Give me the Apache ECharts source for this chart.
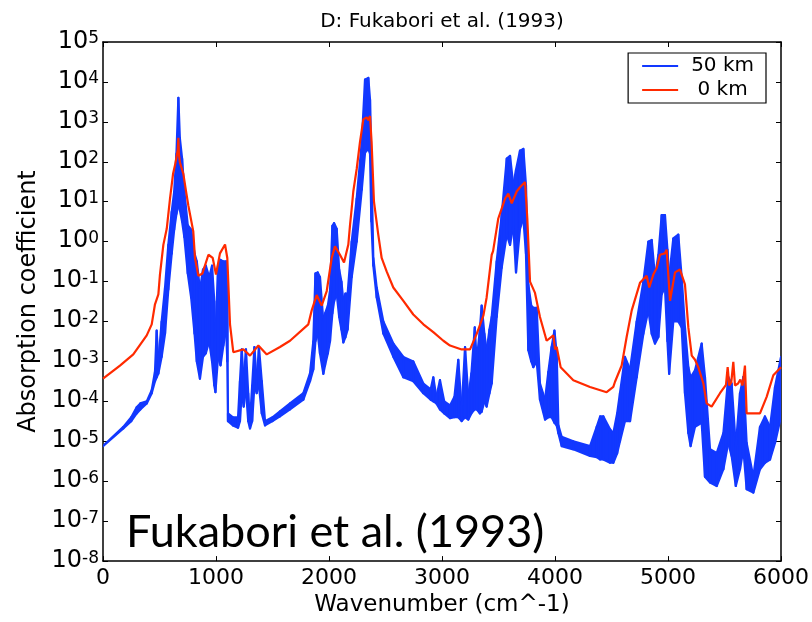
<!DOCTYPE html>
<html>
<head>
<meta charset="utf-8">
<script src="https://cdn.jsdelivr.net/npm/echarts@6/dist/echarts.min.js"></script>
<style>html,body{margin:0;padding:0;background:#fff}#c{width:812px;height:622px}</style>
</head>
<body>
<div id="c"></div>
<script>
// ---- data ----
const titleText = 'D: Fukabori et al. (1993)';
const overlayText = 'Fukabori et al. (1993)';
const xTicks = [0, 1000, 2000, 3000, 4000, 5000, 6000];
const yTickExps = [-8, -7, -6, -5, -4, -3, -2, -1, 0, 1, 2, 3, 4, 5];

// 0 km (red)
const redX = [0,150,268,387,431,460,490,504,534,564,593,620,640,655,662,667,672,681,711,735,755,799,814,844,880,933,971,1000,1035,1080,1100,1124,1153,1242,1301,1375,1449,1566,1655,1817,1847,1891,1935,1980,2024,2053,2097,2133,2171,2186,2201,2215,2245,2274,2304,2333,2348,2363,2377,2398,2436,2466,2510,2569,2658,2746,2835,2923,3012,3071,3174,3248,3307,3366,3395,3440,3452,3498,3558,3587,3617,3661,3690,3735,3755,3779,3823,3867,3926,3985,4000,4015,4050,4162,4310,4457,4516,4531,4590,4634,4679,4752,4811,4834,4870,4900,4929,4973,4988,5018,5062,5106,5150,5180,5210,5239,5268,5313,5342,5386,5460,5513,5528,5542,5560,5578,5593,5620,5640,5660,5681,5696,5814,5873,5932,6000];
const redY = [3.7e-4,7.9e-4,1.5e-3,4.5e-3,8.5e-3,2.7e-2,4.8e-2,0.15,0.83,2.1,12,50,90,100,200,400,150,95,50,18,8.1,1.8,0.39,0.14,0.16,0.47,0.39,0.15,0.51,0.85,0.39,8.5e-3,1.7e-3,2.0e-3,1.4e-3,2.5e-3,1.5e-3,2.3e-3,3.3e-3,8.5e-3,1.9e-2,4.6e-2,2.5e-2,5.8e-2,0.39,0.76,0.47,0.30,0.85,2.6,6.8,18,66,310,1150,1300,1100,1400,310,10,1.5,0.39,0.18,7.1e-2,3.3e-2,1.5e-2,8.5e-3,5.4e-3,3.3e-3,2.5e-3,2.0e-3,2.0e-3,4.9e-3,1.4e-2,4.0e-2,0.47,0.58,3.8,12,16,9.1,18,23,31,3.8,0.10,5.2e-2,1.3e-2,3.3e-3,4.5e-3,2.0e-3,2.3e-3,7.2e-4,3.4e-4,2.3e-4,1.7e-4,2.3e-4,3.1e-4,7.9e-4,4.1e-3,1.9e-2,9.3e-2,0.14,7.1e-2,0.15,0.22,0.47,0.51,0.63,3.3e-2,0.17,0.20,8.5e-2,7.1e-3,1.4e-3,1.1e-3,7.2e-4,2.8e-4,8.9e-5,7.4e-5,1.6e-4,2.6e-4,7.2e-4,2.5e-4,3.0e-4,9.8e-4,2.5e-4,2.8e-4,3.5e-4,2.5e-4,7.9e-4,5.0e-5,5.0e-5,1.3e-4,4.5e-4,7.2e-4];

// 50 km (blue): upper and lower envelope of the dense line structure
const blueX = [0,180,250,298,330,387,431,460,475,490,519,549,578,608,630,650,667,680,700,720,750,780,810,830,858,885,910,940,965,985,995,1018,1040,1065,1090,1100,1106,1150,1195,1212,1228,1245,1265,1285,1301,1320,1340,1360,1380,1405,1434,1500,1566,1655,1773,1832,1861,1880,1900,1920,1950,1965,1990,2009,2030,2045,2068,2090,2110,2127,2145,2165,2201,2245,2290,2319,2348,2363,2375,2392,2422,2481,2570,2658,2746,2835,2900,2923,2950,2982,3020,3071,3110,3144,3174,3204,3233,3260,3290,3307,3335,3351,3375,3395,3420,3440,3484,3528,3573,3602,3631,3655,3690,3720,3743,3764,3790,3808,3838,3867,3912,3941,3970,3995,4015,4030,4059,4162,4310,4369,4400,4428,4487,4516,4550,4575,4619,4664,4723,4782,4826,4856,4885,4915,4944,4973,4995,5010,5047,5091,5121,5150,5180,5200,5239,5298,5327,5372,5431,5490,5533,5563,5600,5637,5667,5696,5755,5814,5858,5903,5947,6000];
const blueHi = [7.6e-6,2.3e-5,4.0e-5,7.1e-5,8.9e-5,1.0e-4,1.9e-4,5.5e-4,5.9e-3,1.0e-3,1.0e-2,7.1e-2,0.83,5.6,18,160,4000,400,120,18,2.6,2.0,0.5,0.32,6.3e-2,0.2,0.25,0.13,0.25,3.2e-2,3.2e-3,0.25,0.35,0.32,0.32,3.2e-2,5.0e-5,4.0e-5,4.0e-5,3.2e-4,2.0e-3,3.2e-4,2.0e-3,1.6e-4,3.2e-5,2.5e-4,2.3e-3,3.2e-4,2.3e-3,3.2e-4,3.2e-5,4.0e-5,5.6e-5,8.9e-5,1.6e-4,5.0e-4,3.2e-3,0.16,0.17,0.13,1.0e-2,1.6e-2,2.5e-2,5.8e-2,2.5,2.9,2.1,0.2,0.1,3.2e-2,5.0e-2,5.0e-2,1.0,12,310,11500,12600,3600,100,0.39,7.1e-2,1.0e-2,2.8e-3,1.3e-3,1.0e-3,2.8e-4,2.0e-4,4.0e-4,1.3e-4,3.4e-4,1.0e-4,7.9e-5,1.3e-4,1.1e-3,6.3e-5,2.3e-3,1.3e-4,5.0e-4,7.1e-3,1.0e-3,6.3e-3,2.5e-2,5.0e-3,1.9e-3,6.3e-3,1.3e-2,0.32,4.6,120,140,26,63,190,210,26,8.5e-2,2.5e-2,2.2e-2,2.2e-2,2.8e-4,1.1e-4,5.5e-4,2.3e-3,5.9e-3,1.6e-3,2.5e-5,1.3e-5,1.0e-5,7.6e-6,2.3e-5,4.2e-5,4.2e-5,2.0e-5,1.6e-5,5.0e-5,1.6e-4,1.3e-3,6.3e-4,1.0e-2,0.1,1.0,1.1,0.13,0.47,4.6,4.6,0.63,0.13,1.2,1.5,0.13,7.1e-3,7.2e-4,4.0e-4,6.0e-4,2.8e-3,4.1e-4,6.3e-6,5.1e-6,1.6e-5,4.1e-4,2.8e-4,7.6e-6,1.6e-4,4.1e-4,9.1e-6,1.3e-6,2.3e-5,4.2e-5,2.3e-5,2.3e-4,1.3e-3];
const blueLo = [7.6e-6,2.1e-5,3.2e-5,5.0e-5,6.3e-5,8.9e-5,1.6e-4,3.2e-4,4.0e-4,5.0e-4,1.3e-3,5.0e-3,6.3e-2,0.5,2,5,7.9,6.3,3.2,1.3,0.16,4.0e-2,5.0e-3,1.0e-3,3.7e-4,1.3e-3,1.6e-3,3.2e-3,1.0e-3,2.5e-4,1.7e-4,1.3e-3,8.0e-4,2.5e-3,6.3e-3,1.0e-3,3.2e-5,2.5e-5,2.2e-5,3.2e-5,1.6e-4,7.4e-5,2.0e-4,3.2e-5,2.1e-5,3.2e-5,2.5e-4,1.6e-4,2.5e-4,5.0e-5,2.5e-5,3.2e-5,4.2e-5,6.3e-5,1.1e-4,3.2e-4,6.3e-4,3.2e-3,5.0e-3,1.6e-3,4.9e-4,8.0e-4,1.6e-3,3.2e-3,1.6e-2,3.2e-2,5.0e-2,1.3e-2,6.3e-3,3.0e-3,4.0e-3,6.3e-3,0.13,1.0,20,170,210,160,3.2,0.25,4.0e-2,5.0e-3,1.3e-3,4.0e-4,3.2e-4,1.6e-4,1.1e-4,1.0e-4,8.9e-5,6.3e-5,5.0e-5,3.8e-5,4.0e-5,4.0e-5,3.2e-5,4.0e-5,3.5e-5,5.0e-5,6.3e-5,6.3e-5,5.0e-5,5.5e-5,1.0e-4,7.4e-5,1.6e-4,2.8e-4,1.3e-2,0.22,1.5,0.83,2.5,0.17,2.1,3.8,0.5,1.9e-3,1.0e-3,7.2e-4,1.0e-3,1.1e-4,3.5e-5,4.0e-5,4.0e-5,2.9e-5,2.5e-5,1.6e-5,7.6e-6,6.3e-6,4.3e-6,4.0e-6,3.5e-6,3.5e-6,2.9e-6,2.9e-6,5.0e-6,1.0e-5,3.2e-5,3.2e-5,4.0e-4,4.9e-3,1.9e-2,4.9e-3,2.8e-3,4.1e-3,4.8e-2,7.1e-2,3.2e-3,4.9e-4,1.0e-2,1.0e-2,7.1e-3,1.6e-4,1.6e-5,7.6e-6,2.3e-5,2.9e-5,1.3e-6,9.3e-7,7.6e-7,2.0e-6,9.1e-6,4.3e-6,7.6e-7,2.0e-6,6.3e-6,6.3e-7,5.2e-7,2.0e-6,2.9e-6,3.5e-6,9.1e-6,4.2e-5];

// ---- chart ----
const BLUE = '#1238ff';
const RED = '#ff2a00';
const FONT = 'DejaVu Sans';
const chart = echarts.init(document.getElementById('c'), null, {renderer: 'canvas'});

const yLabelFmt = function (v) {
  const e = Math.round(Math.log10(v));
  return '{b|10}{s|' + e + '}';
};
const yRich = {
  b: {fontSize: 24, fontFamily: FONT, color: '#000', lineHeight: 22, padding: [11, 0, 0, 0], verticalAlign: 'bottom'},
  s: {fontSize: 17, fontFamily: FONT, color: '#000', lineHeight: 23, verticalAlign: 'top'}
};
const axisLineStyle = {color: '#000', width: 1.5};

const option = {
  animation: false,
  backgroundColor: '#fff',
  grid: {left: 103, right: 31, top: 42, bottom: 56, containLabel: false},
  legend: {
    orient: 'vertical', right: 46, top: 53,
    data: ['50 km', '0 km'],
    icon: 'rect', itemWidth: 36, itemHeight: 2, itemGap: 4,
    borderColor: '#000', borderWidth: 1.2, borderRadius: 0,
    padding: [3, 12, 3, 14],
    backgroundColor: '#fff',
    formatter: function (n) { return n === '0 km' ? ' ' + n : n; },
    textStyle: {fontSize: 20, fontFamily: FONT, color: '#000', padding: [0, 0, 0, 8]}
  },
  xAxis: [{
    type: 'value', min: xTicks[0], max: xTicks[xTicks.length - 1], interval: 1000,
    position: 'bottom',
    name: 'Wavenumber (cm^-1)', nameLocation: 'middle', nameGap: 32,
    nameTextStyle: {fontSize: 23, fontFamily: FONT, color: '#000'},
    axisLine: {show: true, onZero: false, lineStyle: axisLineStyle},
    axisTick: {show: true, inside: true, length: 5, lineStyle: {color: '#000', width: 1}},
    axisLabel: {fontSize: 22, fontFamily: FONT, color: '#000', margin: 6, formatter: function (v) { return String(v); }},
    splitLine: {show: false}
  }, {
    type: 'value', min: xTicks[0], max: xTicks[xTicks.length - 1], interval: 1000,
    position: 'top',
    axisLine: {show: true, onZero: false, lineStyle: axisLineStyle},
    axisTick: {show: true, inside: true, length: 5, lineStyle: {color: '#000', width: 1}},
    axisLabel: {show: false},
    splitLine: {show: false}
  }],
  yAxis: [{
    type: 'log', logBase: 10, min: Math.pow(10, yTickExps[0]), max: Math.pow(10, yTickExps[yTickExps.length - 1]),
    interval: 1,
    position: 'left',
    name: 'Absorption coefficient', nameLocation: 'middle', nameGap: 62, nameRotate: 90,
    nameTextStyle: {fontSize: 24, fontFamily: FONT, color: '#000'},
    axisLine: {show: true, onZero: false, lineStyle: axisLineStyle},
    axisTick: {show: true, inside: true, length: 5, lineStyle: {color: '#000', width: 1}},
    axisLabel: {formatter: yLabelFmt, rich: yRich, margin: 4},
    minorTick: {show: false},
    splitLine: {show: false}
  }, {
    type: 'log', logBase: 10, min: Math.pow(10, yTickExps[0]), max: Math.pow(10, yTickExps[yTickExps.length - 1]),
    interval: 1,
    position: 'right',
    axisLine: {show: true, onZero: false, lineStyle: axisLineStyle},
    axisTick: {show: true, inside: true, length: 5, lineStyle: {color: '#000', width: 1}},
    axisLabel: {show: false},
    splitLine: {show: false}
  }],
  series: [{
    name: '50 km',
    type: 'custom',
    coordinateSystem: 'cartesian2d',
    xAxisIndex: 0, yAxisIndex: 0,
    clip: true,
    itemStyle: {color: BLUE},
    data: blueX.map(function (x, i) { return [x, blueHi[i], blueLo[i]]; }),
    encode: {x: 0, y: [1, 2]},
    renderItem: function (params, api) {
      const i = params.dataIndex;
      if (i >= blueX.length - 1) return null;
      const pts = [
        api.coord([blueX[i], blueHi[i]]),
        api.coord([blueX[i + 1], blueHi[i + 1]]),
        api.coord([blueX[i + 1], blueLo[i + 1]]),
        api.coord([blueX[i], blueLo[i]])
      ];
      return {
        type: 'polygon',
        shape: {points: pts},
        style: {fill: BLUE, stroke: BLUE, lineWidth: 2.2, lineJoin: 'round'}
      };
    },
    z: 2
  }, {
    name: '0 km',
    type: 'line',
    xAxisIndex: 0, yAxisIndex: 0,
    symbol: 'none',
    smooth: false,
    clip: true,
    itemStyle: {color: RED},
    lineStyle: {color: RED, width: 2.2},
    data: redX.map(function (x, i) { return [x, redY[i]]; }),
    z: 3
  }],
  graphic: [{
    type: 'text', x: 442, y: 22, silent: true,
    style: {text: titleText, fontSize: 20, fontFamily: FONT, fill: '#000', align: 'center', verticalAlign: 'middle'}
  }, {
    type: 'text', x: 126, y: 532, silent: true, z: 10,
    style: {text: overlayText, fontSize: 45, fontFamily: 'Lato', fill: '#000', align: 'left', verticalAlign: 'middle'}
  }]
};
chart.setOption(option);
</script>
</body>
</html>
